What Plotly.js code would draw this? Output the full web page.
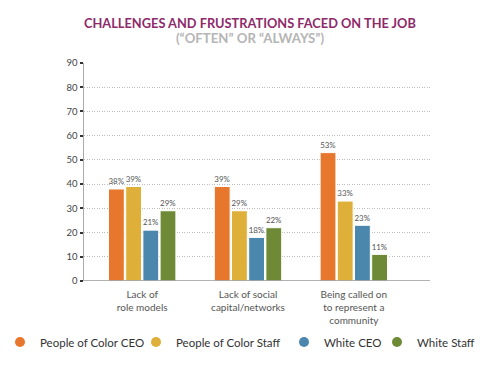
<!DOCTYPE html>
<html><head><meta charset="utf-8">
<script src="https://cdn.plot.ly/plotly-3.0.1.min.js"></script>
<style>html,body{margin:0;padding:0;background:#fff}#c{width:500px;height:368px}</style>
</head><body><div id="c"></div>
<script>
const categories = ["Lack of<br>role models", "Lack of social<br>capital/networks", "Being called on<br>to represent a<br>community"];
const seriesNames = ["People of Color CEO", "People of Color Staff", "White CEO", "White Staff"];
const pocCEO = [38, 39, 53];
const pocStaff = [39, 29, 33];
const whiteCEO = [21, 18, 23];
const whiteStaff = [29, 22, 11];
const colors = ["#E8772E", "#DEB03A", "#4B86AD", "#6E8A37"];
const yTicks = [0,10,20,30,40,50,60,70,80,90];

const allVals = [pocCEO, pocStaff, whiteCEO, whiteStaff];
const font = "Lato, Open Sans, sans-serif";
const legendNames = ["legend", "legend2", "legend3", "legend4"];
const legendTextX = [33, 176, 324, 417];
const traces = [];
allVals.forEach((v, i) => {
  traces.push({
    type: "bar", x: categories, y: v, name: seriesNames[i], showlegend: false,
    marker: {color: colors[i], line: {color: "#fff", width: 1}},
    text: v.map(d => d + "%"), textposition: "outside", cliponaxis: false,
    textfont: {size: 9.5, color: "#555", family: font}, hoverinfo: "skip"
  });
});
seriesNames.forEach((n, i) => {
  traces.push({type: "scatter", mode: "markers", x: [null], y: [null], name: n, legend: legendNames[i],
    marker: {color: colors[i], size: 10, symbol: "circle"}, showlegend: true});
});

const plotTop = 63, plotBot = 281, H = plotBot - plotTop;
const layout = {
  width: 500, height: 368,
  margin: {l: 84, r: 70, t: plotTop, b: 368 - plotBot},
  paper_bgcolor: "#fff", plot_bgcolor: "#fff",
  barmode: "group", bargap: 0.35, bargroupgap: 0.08,
  font: {family: font, color: "#444"},
  xaxis: {type: "category", range: [-0.55, 2.72], showgrid: false, zeroline: false,
    showline: false, ticks: "", ticklabelstandoff: 6, tickfont: {size: 10, color: "#555"}, fixedrange: true},
  yaxis: {range: [0, 90], tickvals: yTicks, showgrid: true, gridcolor: "#bdbdbd", griddash: "1px,1.5px",
    gridwidth: 1, zeroline: false, showline: true, linecolor: "#aaa", linewidth: 1.5,
    ticks: "outside", ticklen: 3, tickwidth: 2, tickcolor: "#333", tickfont: {size: 9.5, color: "#444"}, fixedrange: true},
  shapes: [{type: "line", xref: "paper", yref: "y", x0: 0, x1: 1, y0: 0, y1: 0, line: {color: "#999", width: 1.5}}],
  annotations: [
    {text: "<b>CHALLENGES AND FRUSTRATIONS FACED ON THE JOB</b>", xref: "paper", yref: "paper", x: (250-84)/346, xanchor: "center",
     y: (plotBot - 23) / H, yanchor: "middle", showarrow: false, font: {size: 12.8, color: "#8E2A6A", family: font}},
    {text: "<b>(“OFTEN” OR “ALWAYS”)</b>", xref: "paper", yref: "paper", x: (250-84)/346, xanchor: "center",
     y: (plotBot - 38) / H, yanchor: "middle", showarrow: false, font: {size: 13.2, color: "#b5b5b5", family: font}}
  ]
};
legendNames.forEach((ln, i) => {
  layout[ln] = {orientation: "h", xref: "paper", yref: "container", x: (legendTextX[i] - 40 - 84) / 346, xanchor: "left",
    y: 1 - 342/368, yanchor: "middle", font: {size: 11.5, color: "#333", family: font}, itemwidth: 30,
    bgcolor: "rgba(0,0,0,0)", borderwidth: 0};
});
Plotly.newPlot("c", traces, layout, {displayModeBar: false, staticPlot: true});
</script></body></html>
